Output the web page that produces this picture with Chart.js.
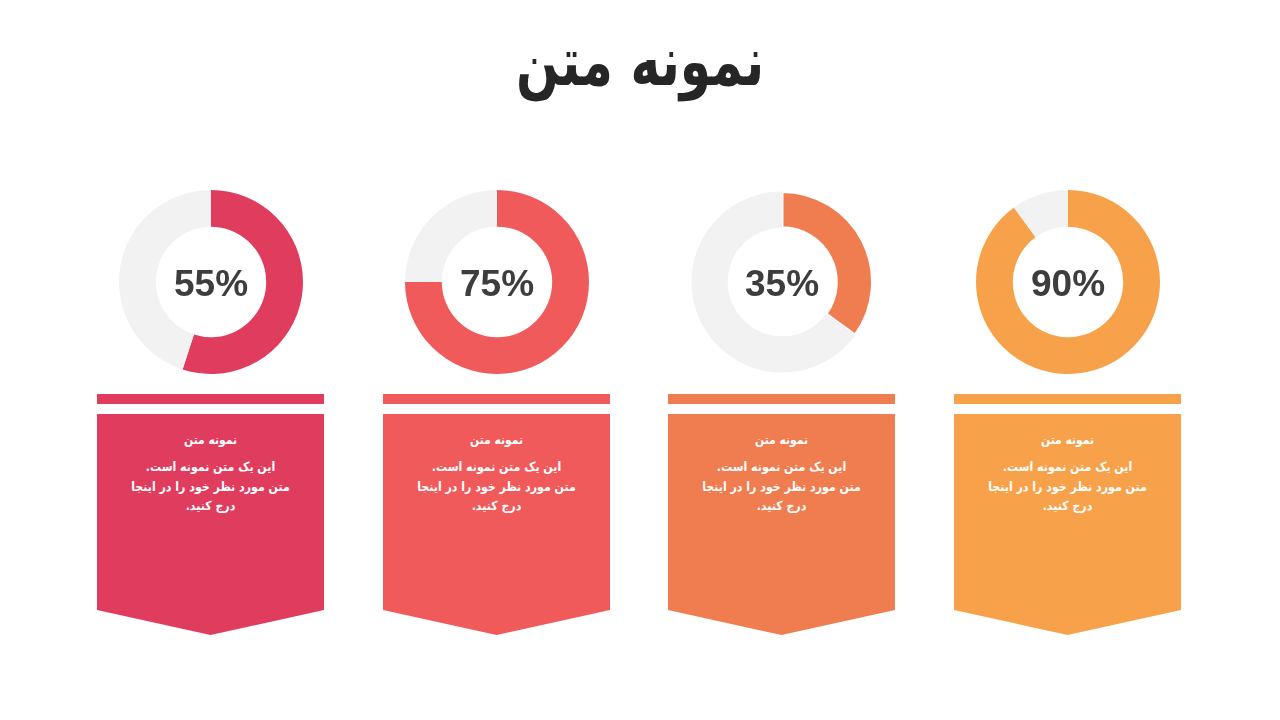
<!DOCTYPE html>
<html lang="fa">
<head>
<meta charset="UTF-8">
<title>نمونه متن</title>
<script src="https://cdn.jsdelivr.net/npm/chart.js"></script>
<style>
    body { margin: 0; width: 1280px; height: 720px; background: #fff; position: relative; overflow: hidden; font-family: "DejaVu Sans", sans-serif; }
    h1 { position: absolute; top: 22px; left: 0; width: 1280px; margin: 0; text-align: center; font-size: 68px; font-weight: bold; color: #262626; direction: rtl; transform: scaleX(0.74); }
    .ring { position: absolute; top: 190px; width: 184px; height: 184px; }
    .stripe { position: absolute; top: 394px; width: 227px; height: 10px; }
    .card { position: absolute; top: 414px; width: 227px; height: 221px;
            clip-path: polygon(0 0, 100% 0, 100% 196px, 50% 221px, 0 196px);
            color: #fff; text-align: center; direction: rtl; font-weight: bold; font-size: 12.5px; }
    .card .t { margin-top: 18px; line-height: 16px; transform: scaleX(0.86); }
    .card .b { margin-top: 9px; line-height: 19.5px; transform: scaleX(0.88); }
</style>
</head>
<body>
<h1>نمونه متن</h1>
<div id="wrap"></div>

<script>
    // chart data
    const values = [55, 75, 35, 90];
    const centerLabels = ["55%", "75%", "35%", "90%"];
    const colors = ["#E03C5E", "#F05A5A", "#F07D50", "#F7A24A"];
    const cardTitles = ["نمونه متن", "نمونه متن", "نمونه متن", "نمونه متن"];
    const cardLines = ["این یک متن نمونه است.", "متن مورد نظر خود را در اینجا", "درج کنید."];
    const centersX = [211, 497, 782, 1068];

    // draw the percentage in the middle of each ring
    const centerText = {
        id: "centerText",
        afterDraw(chart, args, opts) {
            const ctx = chart.ctx;
            const a = chart.chartArea;
            ctx.save();
            ctx.font = "bold 37px 'Liberation Sans', Arial, sans-serif";
            ctx.fillStyle = "#3D3D3D";
            ctx.textAlign = "center";
            ctx.textBaseline = "middle";
            ctx.fillText(opts.text, (a.left + a.right) / 2, (a.top + a.bottom) / 2 + 4);
            ctx.restore();
        }
    };

    const wrap = document.getElementById("wrap");

    values.forEach((v, i) => {
        let canvas = document.createElement("canvas");
        canvas.className = "ring";
        canvas.width = 184;
        canvas.height = 184;
        canvas.style.left = (centersX[i] - 92) + "px";
        wrap.appendChild(canvas);

        new Chart(canvas.getContext("2d"), {
            type: "doughnut",
            data: {
                labels: ["value", "rest"],
                datasets: [{
                    data: [v, 100 - v],
                    backgroundColor: [colors[i], "#F2F2F2"],
                    borderColor: "#FFFFFF",
                    borderWidth: i == 2 ? [3, 0] : 0
                }]
            },
            options: {
                responsive: false,
                animation: false,
                cutout: "60%",
                layout: { padding: 0 },
                plugins: {
                    legend: { display: false },
                    tooltip: { enabled: false },
                    centerText: { text: centerLabels[i] }
                }
            },
            plugins: [centerText]
        });

        let stripe = document.createElement("div");
        stripe.className = "stripe";
        stripe.style.left = (centersX[i] - 114) + "px";
        stripe.style.background = colors[i];
        wrap.appendChild(stripe);

        let card = document.createElement("div");
        card.className = "card";
        card.style.left = (centersX[i] - 114) + "px";
        card.style.background = colors[i];
        card.innerHTML = '<div class="t">' + cardTitles[i] + '</div><div class="b">' + cardLines.join("<br>") + '</div>';
        wrap.appendChild(card);
    });
</script>
</body>
</html>
